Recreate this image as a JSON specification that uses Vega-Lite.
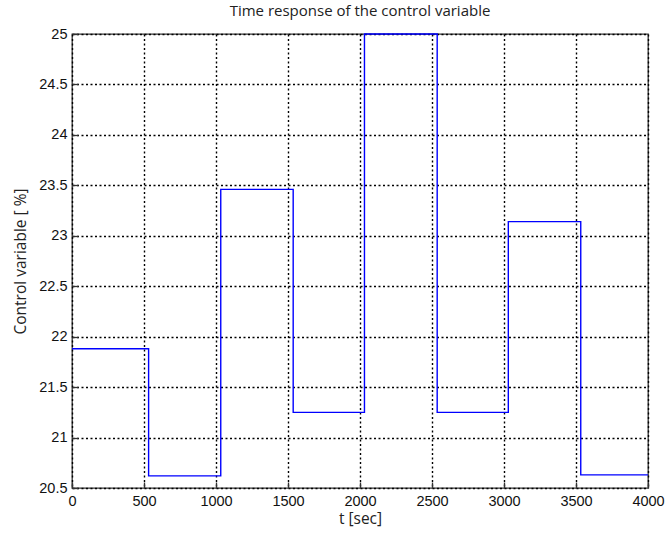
{
  "$schema": "https://vega.github.io/schema/vega-lite/v6.json",
  "width": 576,
  "height": 454,
  "autosize": "none",
  "padding": {"left": 72, "top": 34, "right": 20, "bottom": 55},
  "background": "white",
  "title": {
    "text": "Time response of the control variable",
    "fontSize": 15,
    "font": "Open Sans",
    "fontWeight": "normal",
    "color": "#222222",
    "offset": 7,
    "anchor": "middle"
  },
  "config": {
    "view": {"stroke": "#333333", "strokeWidth": 1.3},
    "axis": {
      "grid": true,
      "gridColor": "#000000",
      "gridDash": [2, 2.5],
      "gridWidth": 1.4,
      "gridOpacity": 1,
      "domain": false,
      "tickSize": -6,
      "tickColor": "#333333",
      "tickWidth": 1.3,
      "labelFont": "Liberation Sans",
      "labelFontSize": 14.5,
      "labelColor": "#111111",
      "titleFont": "Open Sans",
      "titleFontSize": 15.5,
      "titleFontWeight": "normal",
      "titleColor": "#222222"
    }
  },
  "data": {
    "values": [
      {"t": 0, "u": 21.88},
      {"t": 532, "u": 20.62},
      {"t": 1033, "u": 23.46},
      {"t": 1536, "u": 21.25},
      {"t": 2031, "u": 25},
      {"t": 2536, "u": 21.25},
      {"t": 3030, "u": 23.14},
      {"t": 3533, "u": 20.63},
      {"t": 4000, "u": 20.63}
    ]
  },
  "mark": {"type": "line", "interpolate": "step-after", "color": "#0000ff", "strokeWidth": 1.4, "clip": false},
  "encoding": {
    "x": {
      "field": "t",
      "type": "quantitative",
      "scale": {"domain": [0, 4000], "nice": false, "zero": false},
      "axis": {"title": "t [sec]", "values": [0, 500, 1000, 1500, 2000, 2500, 3000, 3500, 4000], "format": "d", "labelPadding": 12, "titlePadding": 4, "labelFlush": false}
    },
    "y": {
      "field": "u",
      "type": "quantitative",
      "scale": {"domain": [20.5, 25], "nice": false, "zero": false},
      "axis": {"title": "Control variable [ %]", "values": [20.5, 21, 21.5, 22, 22.5, 23, 23.5, 24, 24.5, 25], "format": "~g", "labelPadding": 11, "titlePadding": 10, "labelFlush": false}
    }
  }
}
